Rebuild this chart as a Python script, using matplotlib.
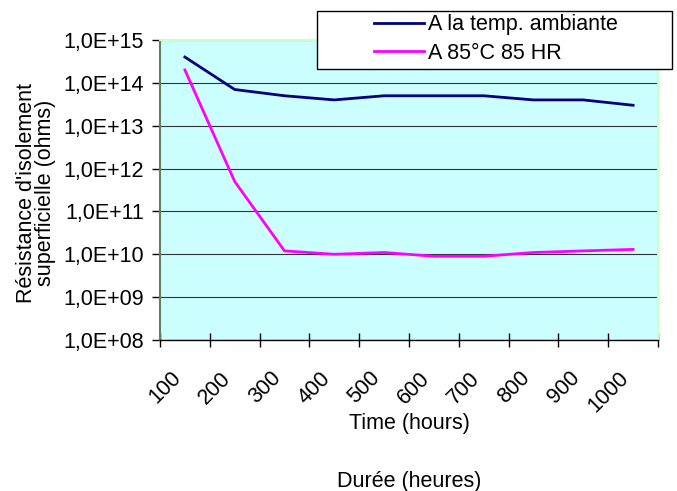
import matplotlib
matplotlib.use("Agg")
import matplotlib.pyplot as plt
import numpy as np
from matplotlib.patches import Rectangle
from matplotlib.transforms import blended_transform_factory, ScaledTranslation

plt.rcParams['font.family'] = ['Liberation Sans', 'DejaVu Sans']

categories = ['100', '200', '300', '400', '500', '600', '700', '800', '900', '1000']
ambient = [4e14, 7e13, 5e13, 4e13, 5e13, 5e13, 5e13, 4e13, 4e13, 3e13]
humid = [2e14, 5e11, 1.2e10, 1e10, 1.1e10, 9e9, 9e9, 1.1e10, 1.2e10, 1.3e10]
series_names = ['A la temp. ambiante', 'A 85°C 85 HR']
ytick_values = [1e8, 1e9, 1e10, 1e11, 1e12, 1e13, 1e14, 1e15]
ytick_labels = ['1,0E+08', '1,0E+09', '1,0E+10', '1,0E+11', '1,0E+12', '1,0E+13', '1,0E+14', '1,0E+15']

FS = 15.5
W, H = 677, 491
fig = plt.figure(figsize=(W / 100, H / 100), dpi=100)
ax = fig.add_axes([160 / W, 1 - 340 / H, 498 / W, 300 / H])
ax.set_facecolor('#CCFFFF')

x = np.arange(len(categories)) + 0.5
l1, = ax.plot(x, ambient, color='#000080', lw=2, zorder=3)
l2, = ax.plot(x, humid, color='#FF00FF', lw=2, zorder=3)

ax.set_yscale('log')
ax.set_ylim(ytick_values[0], ytick_values[-1])
ax.set_xlim(0, len(categories))
ax.set_yticks(ytick_values)
ax.set_yticklabels(ytick_labels)
ax.yaxis.set_minor_locator(matplotlib.ticker.NullLocator())
ax.tick_params(axis='y', which='major', direction='out', length=5.5, width=1,
               labelsize=FS, pad=6, color='black')
ax.grid(axis='y', color='#333333', lw=0.8, zorder=1)

ax.set_xticks(np.arange(len(categories) + 1))
ax.set_xticklabels([])
ax.tick_params(axis='x', which='major', direction='inout', length=10, width=1, color='black')

trans = blended_transform_factory(ax.transData, ax.transAxes) + \
    ScaledTranslation(-7 / 100, -35 / 100, fig.dpi_scale_trans)
for xi, lab in zip(x, categories):
    ax.text(xi, 0, lab, transform=trans, rotation=45, rotation_mode='anchor',
            ha='right', va='center', fontsize=FS)

ax.spines['left'].set_color('#5f7f5f')
ax.spines['left'].set_linewidth(1.5)
ax.spines['bottom'].set_color('black')
ax.spines['bottom'].set_linewidth(1)
ax.spines['top'].set_color('#CCFFCC')
ax.spines['right'].set_color('#CCFFCC')
ax.spines['top'].set_linewidth(1.5)
ax.spines['right'].set_linewidth(1.5)

fig.text(409 / W, 1 - 424 / H, 'Time (hours)', ha='center', va='center', fontsize=FS)
fig.text(409 / W, 1 - 481 / H, 'Durée (heures)', ha='center', va='center', fontsize=FS)
fig.text(36 / W, 1 - 193 / H, "Résistance d'isolement\nsuperficielle (ohms)",
         rotation=90, ha='center', va='center', multialignment='center',
         linespacing=0.93, fontsize=FS)

rect = Rectangle((317 / W, 1 - 69 / H), 355 / W, 58 / H, transform=fig.transFigure,
                 facecolor='white', edgecolor='black', lw=1, zorder=3)
fig.patches.append(rect)
leg = fig.legend([l1, l2], series_names, loc='center',
                 bbox_to_anchor=(496 / W, 1 - 39 / H), frameon=False,
                 fontsize=FS, handlelength=2.3, handletextpad=0.2,
                 labelspacing=0.34, borderpad=0)
leg.set_zorder(5)

fig.savefig('out.png', dpi=100)
